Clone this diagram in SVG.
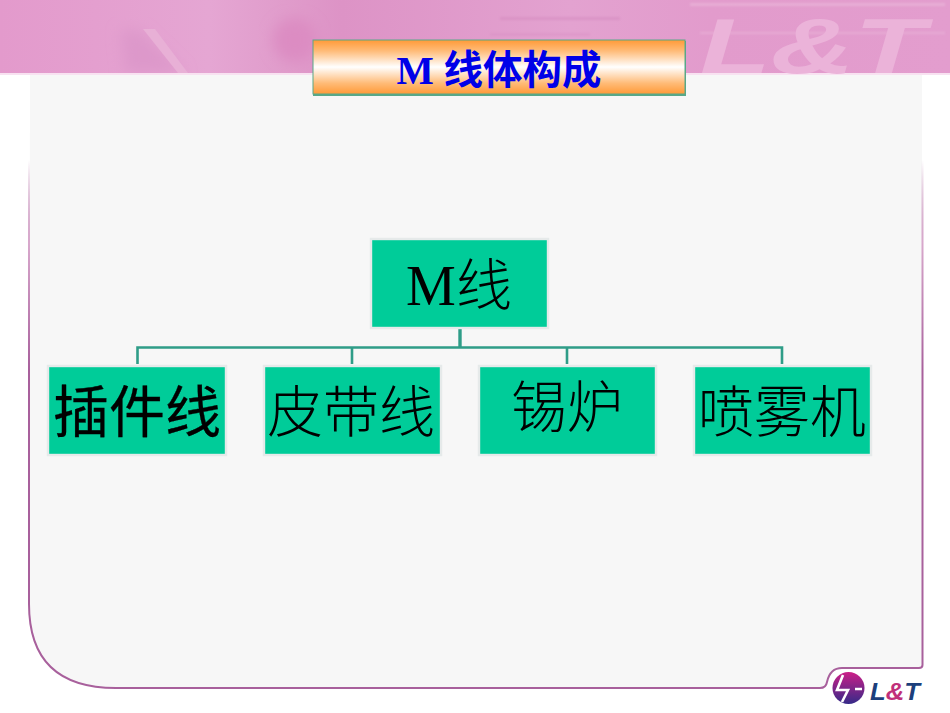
<svg xmlns="http://www.w3.org/2000/svg" width="950" height="713" viewBox="0 0 950 713">
<style>
.n{fill:#00cc99;stroke:#e6eaea;stroke-width:2.4}
.t{font-family:"Liberation Serif","Noto Sans CJK SC",serif;font-size:56px;font-weight:300;fill:#000;text-anchor:middle}
.c{fill:none;stroke:#2f9d88;stroke-width:2.6}
</style>
<defs>
<linearGradient id="b" x1="0" y1="0" x2="0" y2="1">
<stop offset="0" stop-color="#ff9a38"/><stop offset=".2" stop-color="#ffbb77"/><stop offset=".5" stop-color="#fff"/><stop offset=".8" stop-color="#ffbb77"/><stop offset="1" stop-color="#ff9a38"/>
</linearGradient>
<linearGradient id="lg" x1="0" y1="0" x2="0" y2="1">
<stop offset="0" stop-color="#cc1f88"/><stop offset="1" stop-color="#352a88"/>
</linearGradient>
<linearGradient id="ban" x1="0" y1="0" x2="1" y2="0">
<stop offset="0" stop-color="#e39acc"/><stop offset=".1" stop-color="#e49fcf"/><stop offset=".22" stop-color="#e5a6d3"/><stop offset=".3" stop-color="#e09ccb"/><stop offset=".36" stop-color="#dd93c6"/><stop offset=".6" stop-color="#e3a2d0"/><stop offset=".75" stop-color="#e29bcc"/><stop offset="1" stop-color="#e39dce"/>
</linearGradient>
<linearGradient id="ed" gradientUnits="userSpaceOnUse" x1="0" y1="160" x2="0" y2="370">
<stop offset="0" stop-color="#a85a98" stop-opacity="0"/><stop offset=".4" stop-color="#d8a8cc"/><stop offset="1" stop-color="#a8609c"/>
</linearGradient>
<filter id="bl" x="-30%" y="-30%" width="160%" height="160%"><feGaussianBlur stdDeviation="7"/></filter>
<filter id="bs" x="-10%" y="-50%" width="120%" height="200%"><feGaussianBlur stdDeviation="1.2"/></filter>
<clipPath id="bc"><rect width="950" height="73"/></clipPath>
</defs>
<rect width="950" height="713" fill="#fff"/>
<g id="banner">
<rect width="950" height="73" fill="url(#ban)"/>
<g clip-path="url(#bc)">
<ellipse cx="295" cy="40" rx="22" ry="22" fill="#dc8cc2" filter="url(#bl)"/>
<path d="M120 30L140 30L185 73L125 73Z" fill="#dd98ca" filter="url(#bl)"/>
<path d="M143 29L155 29L188 73L178 73Z" fill="#e8b0d6"/>
<g fill="#e9b5d9" filter="url(#bs)">
<rect x="690" y="3" width="255" height="3" opacity=".7"/>
<rect x="700" y="32" width="245" height="2" opacity=".6"/>
</g>
<g fill="#d68cc0" filter="url(#bs)">
<rect x="500" y="17" width="120" height="3" opacity=".6"/>
<rect x="490" y="33" width="100" height="3" opacity=".4"/>
</g>
</g>
<rect y="73" width="950" height="2" fill="#f8e2f1"/>
<text x="700" y="73" textLength="225" lengthAdjust="spacingAndGlyphs" font-family="Liberation Sans,sans-serif" font-style="italic" font-weight="700" font-size="78" fill="#ebb3d9">L&amp;T</text>
</g>
<g id="panel">
<path d="M30 75H922V665Q922 668 919 668H842Q830 668 827 682Q826 688 820 688H116Q29 688 29 604Z" fill="#f7f7f7"/>
<path d="M922.500 160V665Q922.500 668 919 668H842Q830 668 827 682Q826 688 820 688H116Q29 688 29 604V160" fill="none" stroke="url(#ed)" stroke-width="2"/>
</g>
<g id="title">
<rect x="313" y="41" width="373" height="55" fill="#58a888"/>
<rect x="313" y="40" width="372" height="54" fill="url(#b)" stroke="#58a888" stroke-width="1"/>
<text x="499" y="84" text-anchor="middle" font-family="Liberation Serif,Noto Sans CJK SC,serif" font-size="39.500" font-weight="700" fill="#0000e8">M 线体构成</text>
</g>
<g id="connectors">
<path class="c" d="M137.500 364V347.500H782V364M352 347.500V364M567 347.500V364"/>
<path class="c" style="stroke-width:3.400" d="M460 329V347"/>
</g>
<g id="root"><rect class="n" x="371" y="239" width="177" height="89"/><text class="t" x="459" y="305">M线</text></g>
<g id="n1"><rect class="n" x="48" y="366" width="178" height="89"/><text class="t" x="137" y="432" style="font-weight:400;stroke:#000;stroke-width:.3">插件线</text></g>
<g id="n2"><rect class="n" x="264" y="366" width="177" height="89"/><text class="t" x="351" y="432">皮带线</text></g>
<g id="n3"><rect class="n" x="479" y="366" width="177" height="89"/><text class="t" x="567" y="427">锡炉</text></g>
<g id="n4"><rect class="n" x="694" y="366" width="177" height="89"/><text class="t" x="782" y="432">喷雾机</text></g>
<g id="logo">
<circle cx="848.500" cy="688" r="16" fill="url(#lg)"/>
<path d="M843 675L837 690H848L842 702M855 689H862" fill="none" stroke="#fff" stroke-width="2.600"/>
<text x="870" y="700" textLength="50" lengthAdjust="spacingAndGlyphs" font-family="Liberation Sans,sans-serif" font-style="italic" font-weight="700" font-size="24" fill="#1c3f7c">L<tspan fill="#c0307a">&amp;</tspan>T</text>
</g>
</svg>
